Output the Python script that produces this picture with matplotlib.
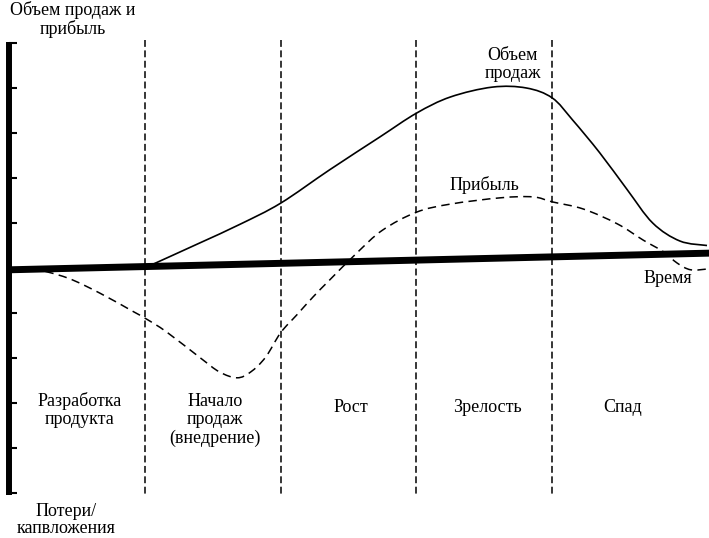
import matplotlib
matplotlib.use("Agg")
import matplotlib.pyplot as plt
from matplotlib.path import Path
from matplotlib.patches import PathPatch
import numpy as np

# Sales volume curve (time in stage units, value in tick units)
sales_x = [1.05, 1.40, 1.70, 2.00, 2.36, 2.73, 3.00, 3.25, 3.56, 3.81, 4.00,
           4.15, 4.35, 4.55, 4.74, 4.94, 5.14]
sales_y = [0.07, 0.55, 0.97, 1.44, 2.18, 2.91, 3.44, 3.80, 4.02, 4.00, 3.78,
           3.29, 2.56, 1.75, 1.00, 0.60, 0.50]

# Profit curve
profit_x = [0.17, 0.43, 0.67, 0.91, 1.01, 1.16, 1.41, 1.55, 1.68, 1.78, 1.89,
            2.00, 2.12, 2.24, 2.36, 2.56, 2.75, 3.00, 3.25, 3.62, 3.86, 4.00,
            4.23, 4.48, 4.67, 4.82, 4.92, 5.02, 5.15]
profit_y = [0.00, -0.22, -0.56, -0.96, -1.13, -1.42, -2.00, -2.31, -2.44, -2.31,
            -1.98, -1.44, -1.04, -0.64, -0.27, 0.33, 0.84, 1.24, 1.42, 1.56,
            1.58, 1.47, 1.31, 0.98, 0.62, 0.36, 0.11, -0.04, -0.02]

# Time axis (slightly rising thick line)
time_axis_x = [0.0, 5.155]
time_axis_y = [-0.04, 0.33]

stage_bounds = [1, 2, 3, 4]
stage_labels = ["Разработка\nпродукта", "Начало\nпродаж\n(внедрение)", "Рост",
                "Зрелость", "Спад"]
stage_centers = [0.5, 1.5, 2.5, 3.5, 4.5]
tick_values = list(range(-5, 6))

plt.rcParams['font.family'] = ['Liberation Serif', 'DejaVu Serif']


def smooth_path(xs, ys):
    """Catmull-Rom spline through the given points, as Bezier path."""
    p = np.column_stack([xs, ys]).astype(float)
    verts = [p[0]]
    codes = [Path.MOVETO]
    n = len(p)
    for i in range(n - 1):
        p0 = p[i - 1] if i > 0 else p[i]
        p1 = p[i]
        p2 = p[i + 1]
        p3 = p[i + 2] if i + 2 < n else p[i + 1]
        c1 = p1 + (p2 - p0) / 6.0
        c2 = p2 - (p3 - p1) / 6.0
        verts += [c1, c2, p2]
        codes += [Path.CURVE4] * 3
    return Path(verts, codes)


fig = plt.figure(figsize=(7.09, 5.38), dpi=100)
ax = fig.add_axes([0, 0, 1, 1])
ax.set_xlim(-9 / 135.8, 700 / 135.8)
ax.set_ylim(-6.0, 268 / 45)
ax.axis('off')

# vertical axis with ticks
ax.plot([0, 0], [5.02, -5.04], color='black', lw=4.3, solid_capstyle='butt')
for t in tick_values:
    ax.plot([0, 0.06], [t, t], color='black', lw=1.5, solid_capstyle='butt')

# stage boundaries
for b in stage_bounds:
    ax.plot([b, b], [5.07, -5.1], color='black', lw=1.1,
            linestyle=(0, (4.5, 2.3)))

# time axis
ax.plot(time_axis_x, time_axis_y, color='black', lw=5.0, solid_capstyle='butt')

# curves
ax.add_patch(PathPatch(smooth_path(sales_x, sales_y), facecolor='none',
                       edgecolor='black', lw=1.2))
ax.add_patch(PathPatch(smooth_path(profit_x, profit_y), facecolor='none',
                       edgecolor='black', lw=1.1, linestyle=(0, (5.5, 3.5))))

fs = 13.0
for cx, lab in zip(stage_centers, stage_labels):
    nlines = lab.count("\n") + 1
    yy = {1: -3.11, 2: -3.16, 3: -3.38}[nlines]
    ax.text(cx + 0.02, yy, lab, ha='center', va='center', fontsize=fs,
            linespacing=1.12)

ax.text(0.47, 5.52, "Объем продаж и\nприбыль", ha='center', va='center',
        fontsize=fs, linespacing=1.02)
ax.text(0.42, -5.6, "Потери/\nкапвложения", ha='center', va='center',
        fontsize=fs, linespacing=1.0)
ax.text(3.71, 4.52, "Объем\nпродаж", ha='center', va='center',
        fontsize=fs, linespacing=1.08)
ax.text(3.50, 1.84, "Прибыль", ha='center', va='center', fontsize=fs)
ax.text(4.85, -0.24, "Время", ha='center', va='center', fontsize=fs)

fig.savefig("out.png", dpi=100)
